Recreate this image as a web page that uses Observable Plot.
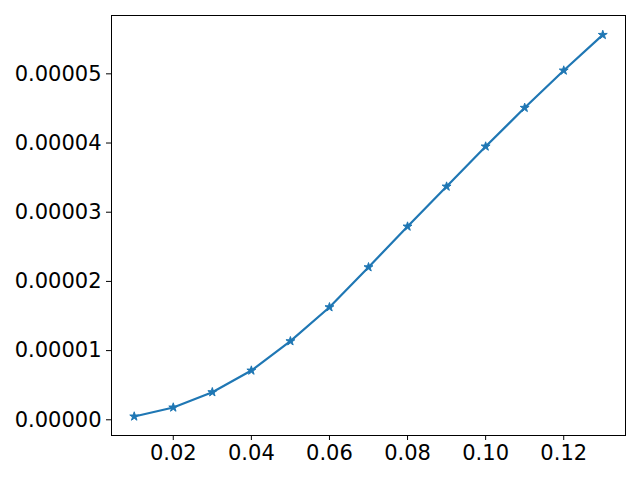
<!DOCTYPE html>
<html>
<head>
<meta charset="utf-8">
<script src="https://cdn.jsdelivr.net/npm/d3@7"></script>
<script src="https://cdn.jsdelivr.net/npm/@observablehq/plot@0.6"></script>
<style>
  html, body { margin: 0; padding: 0; background: #fff; }
  svg { display: block; }
</style>
</head>
<body>
<div id="chart"></div>
<script>
const xValues = [0.01, 0.02, 0.03, 0.04, 0.05, 0.06, 0.07, 0.08, 0.09, 0.10, 0.11, 0.12, 0.13];
const yValues = [0.048e-5, 0.178e-5, 0.399e-5, 0.712e-5, 1.136e-5, 1.627e-5, 2.205e-5, 2.793e-5, 3.371e-5, 3.95e-5, 4.509e-5, 5.048e-5, 5.563e-5];
const xTicks = [0.02, 0.04, 0.06, 0.08, 0.10, 0.12];
const yTicks = [0, 0.00001, 0.00002, 0.00003, 0.00004, 0.00005];

const data = xValues.map((x, i) => ({x, y: yValues[i]}));
const color = "#1f77b4";

const chart = Plot.plot({
  width: 640,
  height: 480,
  marginLeft: 111,
  marginRight: 15,
  marginTop: 15,
  marginBottom: 45,
  style: {fontFamily: "DejaVu Sans", fontSize: "21px", color: "#000", background: "#fff"},
  x: {domain: [0.00418, 0.13582], ticks: xTicks, tickFormat: d3.format(".2f"), label: null},
  y: {domain: [-0.227e-5, 5.843e-5], ticks: yTicks, tickFormat: d3.format(".5f"), label: null},
  marks: [
    Plot.frame({stroke: "#000", strokeWidth: 1}),
    Plot.axisX({ticks: xTicks, tickFormat: d3.format(".2f"), tickSize: 5, tickPadding: 5, fontSize: 21, label: null}),
    Plot.axisY({ticks: yTicks, tickFormat: d3.format(".5f"), tickSize: 5, tickPadding: 5, fontSize: 21, label: null}),
    Plot.line(data, {x: "x", y: "y", stroke: color, strokeWidth: 2.2, strokeLinejoin: "round", strokeLinecap: "square"}),
    Plot.dot(data, {x: "x", y: "y", symbol: "star", r: 2.8, fill: color, stroke: color, strokeWidth: 1})
  ]
});
document.getElementById("chart").appendChild(chart);
</script>
</body>
</html>
